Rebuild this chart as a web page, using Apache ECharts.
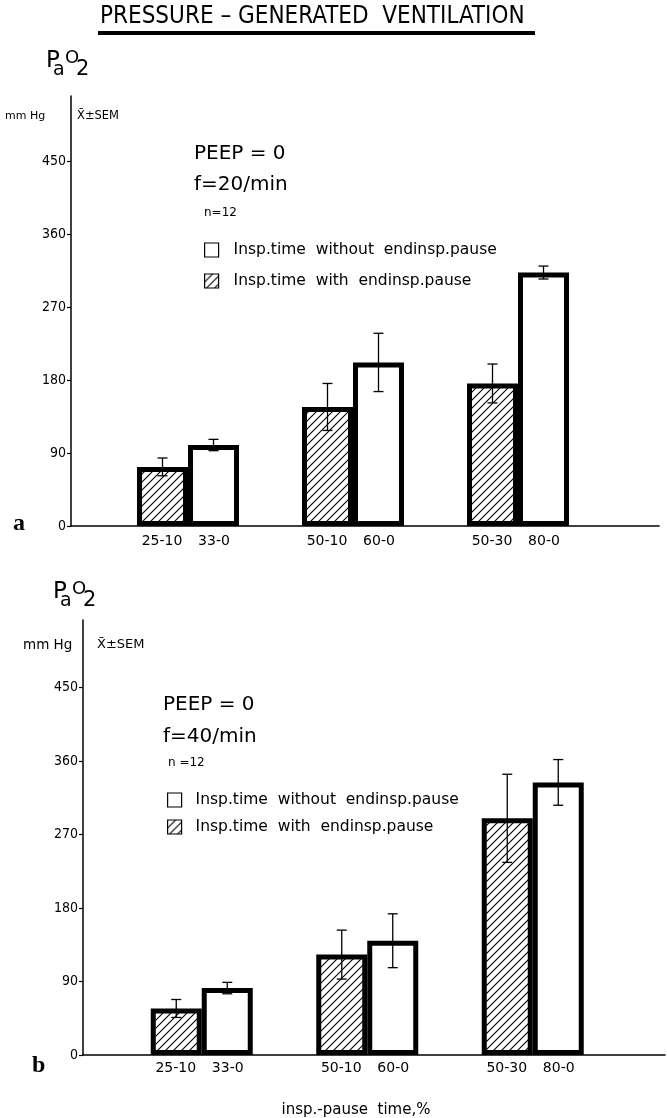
<!DOCTYPE html>
<html><head><meta charset="utf-8">
<script src="https://cdn.jsdelivr.net/npm/echarts@6/dist/echarts.min.js"></script>
<style>html,body{margin:0;padding:0;background:#fff}#c{width:667px;height:1118px}</style>
</head><body><div id="c"></div>
<script>
// ---- data ----
const groupsWith = ['25-10', '50-10', '50-30'];     // insp.-pause time with end-inspiratory pause
const groupsWithout = ['33-0', '60-0', '80-0'];     // without pause
const yTicks = [0, 90, 180, 270, 360, 450];
// panel a : f = 20/min
const aWithMean = [73, 147, 176];
const aWithSem = [11, 29, 24];
const aWithoutMean = [100, 202, 313];
const aWithoutSem = [7, 36, 8];
// panel b : f = 40/min
const bWithMean = [57, 123, 290];
const bWithSem = [11, 30, 54];
const bWithoutMean = [82, 140, 334];
const bWithoutSem = [7, 33, 28];
const nameWithout = 'Insp.time  without  endinsp.pause';
const nameWith = 'Insp.time  with  endinsp.pause';

// ---- styling helpers ----
function makeHatch() {
  const s = 8, c = document.createElement('canvas');
  c.width = s; c.height = s;
  const g = c.getContext('2d');
  g.fillStyle = '#fff'; g.fillRect(0, 0, s, s);
  g.strokeStyle = '#000'; g.lineWidth = 1.1;
  g.beginPath();
  g.moveTo(0, s); g.lineTo(s, 0);
  g.moveTo(-2, 2); g.lineTo(2, -2);
  g.moveTo(s - 2, s + 2); g.lineTo(s + 2, s - 2);
  g.stroke();
  return c;
}
const hatch = { image: makeHatch(), repeat: 'repeat' };
const FONT = 'DejaVu Sans';
const BAR_W = 51;

function frameX(gi) {
  return { gridIndex: gi, type: 'value', min: 0, max: 1,
    axisLine: { show: true, lineStyle: { color: '#000', width: 1.6 } },
    axisTick: { show: false }, axisLabel: { show: false }, splitLine: { show: false } };
}
function frameY(gi, max) {
  return { gridIndex: gi, type: 'value', min: 0, max: max, interval: 90,
    axisLine: { show: true, lineStyle: { color: '#000', width: 1.5 } },
    axisTick: { show: true, length: 4, lineStyle: { color: '#000', width: 1.2 }, customValues: yTicks },
    axisLabel: { color: '#000', fontFamily: 'DejaVu Sans Condensed, DejaVu Sans', fontSize: 14, margin: 5,
      customValues: yTicks },
    splitLine: { show: false } };
}
function dataX(gi, margin) {
  return { gridIndex: gi, type: 'category', data: groupsWith.map((g, i) => String(i)),
    axisLine: { show: false }, axisTick: { show: false }, splitLine: { show: false },
    axisLabel: { margin: margin, interval: 0,
      formatter: (v) => '{w|' + groupsWith[+v] + '}{o|' + groupsWithout[+v] + '}',
      rich: { w: { width: 52, align: 'center', fontSize: 14, fontFamily: FONT, color: '#000' },
              o: { width: 52, align: 'center', fontSize: 14, fontFamily: FONT, color: '#000' } } } };
}
function hiddenY(gi, max) {
  return { gridIndex: gi, type: 'value', min: 0, max: max, show: false, splitLine: { show: false } };
}
function errRender(offset) {
  return function (params, api) {
    const i = api.value(0), m = api.value(1), e = api.value(2);
    const hi = api.coord([i, m + e]), lo = api.coord([i, m - e]);
    const x = hi[0] + offset, w = 5;
    const st = { stroke: '#000', lineWidth: 1.3 };
    return { type: 'group', children: [
      { type: 'line', shape: { x1: x, y1: hi[1], x2: x, y2: lo[1] }, style: st },
      { type: 'line', shape: { x1: x - w, y1: hi[1], x2: x + w, y2: hi[1] }, style: st },
      { type: 'line', shape: { x1: x - w, y1: lo[1], x2: x + w, y2: lo[1] }, style: st } ] };
  };
}
function barSeries(name, data, xi, yi, color) {
  return { name: name, type: 'bar', xAxisIndex: xi, yAxisIndex: yi, data: data,
    barWidth: BAR_W, barGap: '0%',
    itemStyle: { color: color, borderColor: '#000', borderWidth: 5 } };
}
function errSeries(means, sems, xi, yi, offset) {
  return { type: 'custom', xAxisIndex: xi, yAxisIndex: yi, z: 5,
    data: means.map((m, i) => [i, m, sems[i]]), renderItem: errRender(offset) };
}
function legendAt(left, top, gap, pad) {
  return { data: [nameWithout, nameWith], orient: 'vertical', left: left, top: top,
    itemWidth: 14, itemHeight: 14, itemGap: gap, padding: 0, icon: 'rect', selectedMode: false,
    itemStyle: { borderWidth: 1.2, borderColor: '#000' },
    textStyle: { fontSize: 15.5, color: '#000', fontFamily: FONT, padding: [0, 0, 0, pad] } };
}
function txt(x, y, text, font, align) {
  return { type: 'text', x: x, y: y, silent: true,
    style: { text: text, font: font, fill: '#000', textAlign: align || 'left', textVerticalAlign: 'middle' } };
}

const maxA = 531, maxB = 533;
const option = {
  animation: false,
  backgroundColor: '#fff',
  grid: [
    { left: 71, right: 8, top: 96, bottom: 1118 - 526 },
    { left: 105.5, right: 66.5, top: 96, bottom: 1118 - 526 },
    { left: 83, right: 2, top: 620, bottom: 1118 - 1055 },
    { left: 119, right: 51.5, top: 620, bottom: 1118 - 1055 }
  ],
  xAxis: [frameX(0), dataX(1, 8), frameX(2), dataX(3, 6)],
  yAxis: [frameY(0, maxA), hiddenY(1, maxA), frameY(2, maxB), hiddenY(3, maxB)],
  legend: [legendAt(204, 242, 15, 10), legendAt(167, 792, 11, 9)],
  series: [
    barSeries(nameWith, aWithMean, 1, 1, hatch),
    barSeries(nameWithout, aWithoutMean, 1, 1, '#fff'),
    errSeries(aWithMean, aWithSem, 1, 1, -BAR_W / 2),
    errSeries(aWithoutMean, aWithoutSem, 1, 1, BAR_W / 2),
    barSeries(nameWith, bWithMean, 3, 3, hatch),
    barSeries(nameWithout, bWithoutMean, 3, 3, '#fff'),
    errSeries(bWithMean, bWithSem, 3, 3, -BAR_W / 2),
    errSeries(bWithoutMean, bWithoutSem, 3, 3, BAR_W / 2)
  ],
  graphic: [
    txt(100, 17, 'PRESSURE – GENERATED  VENTILATION', '24px "DejaVu Sans Condensed", "DejaVu Sans"'),
    { type: 'rect', silent: true, shape: { x: 98, y: 31, width: 437, height: 4 }, style: { fill: '#000' } },
    // panel a
    txt(46, 61, 'P', '23px ' + FONT), txt(53, 70, 'a', '19px ' + FONT),
    txt(65, 58, 'O', '18px ' + FONT), txt(76, 70, '2', '21px ' + FONT),
    txt(5, 116, 'mm Hg', '11px ' + FONT), txt(77, 116, 'X\u0304±SEM', '11.5px ' + FONT),
    txt(194, 154, 'PEEP = 0', '20px ' + FONT), txt(194, 185, 'f=20/min', '20px ' + FONT),
    txt(204, 213, 'n=12', '12px ' + FONT),
    txt(13, 524, 'a', 'bold 24px "Liberation Serif", "DejaVu Serif"'),
    // panel b
    txt(53, 592, 'P', '23px ' + FONT), txt(60, 601, 'a', '19px ' + FONT),
    txt(72, 589, 'O', '18px ' + FONT), txt(83, 601, '2', '21px ' + FONT),
    txt(23, 645, 'mm Hg', '13.5px ' + FONT), txt(97, 645, 'X\u0304±SEM', '13px ' + FONT),
    txt(163, 705, 'PEEP = 0', '20px ' + FONT), txt(163, 737, 'f=40/min', '20px ' + FONT),
    txt(168, 763, 'n =12', '12px ' + FONT),
    txt(32, 1066, 'b', 'bold 24px "Liberation Serif", "DejaVu Serif"'),
    txt(356, 1110, 'insp.-pause  time,%', '15px ' + FONT, 'center')
  ]
};
const chart = echarts.init(document.getElementById('c'), null, { renderer: 'canvas' });
chart.setOption(option);
</script>
</body></html>
